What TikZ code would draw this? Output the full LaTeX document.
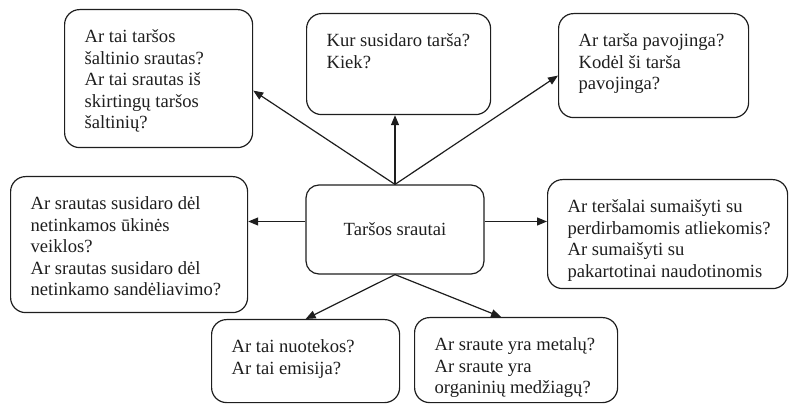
\documentclass[tikz,border=0pt]{standalone}
\usepackage{fontspec}
\setmainfont{Liberation Serif}
\usetikzlibrary{arrows.meta, positioning}
\definecolor{qink}{HTML}{1E1E1E}
\newcommand{\qfont}{\fontsize{18.6}{21.5}\selectfont}
\newcommand{\qbody}[3]{\parbox[c][#2pt][t]{#1pt}{\raggedright\leftskip=20pt\rule{0pt}{33pt}#3}}
\tikzset{
  qbox/.style={draw=qink, line width=1.2pt, rounded corners=15pt, inner sep=0pt,
               anchor=north west, text=qink, font=\qfont},
  hub/.style={draw=qink, line width=1.2pt, rounded corners=13pt, text=qink, font=\qfont,
              minimum width=178pt, minimum height=89pt, align=center},
  flow/.style={-{Triangle[length=10pt, width=8pt]}, draw=qink, line width=1.2pt}
}
\begin{document}
\begin{tikzpicture}[x=1pt, y=1pt]
  \useasboundingbox (0,0) rectangle (789,404);
  \node[hub] (flows) at (395,174.5) {Taršos srautai};
  \node[qbox] (source) at (64,395) {\qbody{188}{138}{Ar tai taršos\\šaltinio srautas?\\Ar tai srautas iš\\skirtingų taršos\\šaltinių?}};
  \node[qbox] (place) at (306,391) {\qbody{184}{101}{Kur susidaro tarša?\\Kiek?}};
  \node[qbox] (hazard) at (558,391) {\qbody{190}{104}{Ar tarša pavojinga?\\Kodėl ši tarša\\pavojinga?}};
  \node[qbox] (activity) at (10,228) {\qbody{237}{136}{Ar srautas susidaro dėl\\netinkamos ūkinės\\veiklos?\\Ar srautas susidaro dėl\\netinkamo sandėliavimo?}};
  \node[qbox] (mixing) at (547,225) {\qbody{240}{109}{Ar teršalai sumaišyti su\\perdirbamomis atliekomis?\\Ar sumaišyti su\\pakartotinai naudotinomis}};
  \node[qbox] (discharge) at (211,85) {\qbody{188}{83}{Ar tai nuotekos?\\Ar tai emisija?}};
  \node[qbox] (content) at (414,87) {\qbody{203}{85}{Ar sraute yra metalų?\\Ar sraute yra\\organinių medžiagų?}};

  \coordinate (lmid) at ([yshift=8pt]flows.west);
  \coordinate (rmid) at ([yshift=8pt]flows.east);
  \draw[flow] (flows.north) -- ([yshift=-12pt]source.east);
  \draw[flow] (flows.north) -- (flows.north |- place.south);
  \draw[flow] (flows.north) -- ([yshift=-10pt]hazard.west);
  \draw[flow] (lmid) -- (lmid -| activity.east);
  \draw[flow] (rmid) -- (rmid -| mixing.west);
  \draw[flow] (flows.south) -- (discharge.north);
  \draw[flow] (flows.south) -- ([xshift=-15pt]content.north);
\end{tikzpicture}
\end{document}
